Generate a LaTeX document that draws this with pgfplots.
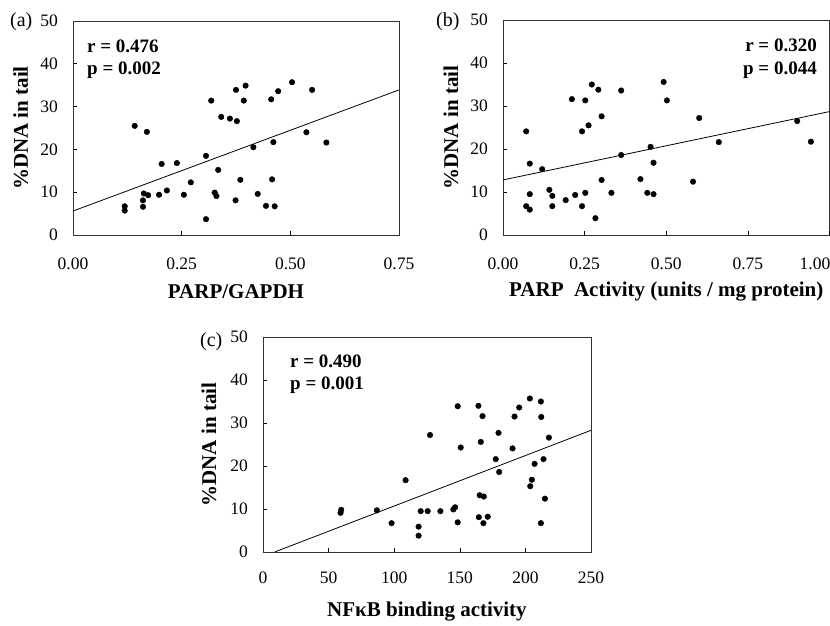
\documentclass[border=0pt]{standalone}
\usepackage{fontspec}
\setmainfont{Liberation Serif}
\usepackage{pgfplots}
\pgfplotsset{compat=1.18}

\pgfplotstableread{
x y
0.119 6.7
0.119 5.7
0.142 25.5
0.170 24.1
0.161 8.1
0.161 6.6
0.163 9.7
0.173 9.3
0.204 16.6
0.198 9.4
0.216 10.4
0.239 16.8
0.255 9.4
0.271 12.3
0.306 18.5
0.306 3.7
0.318 31.4
0.326 9.9
0.330 9.1
0.334 15.2
0.341 27.6
0.361 27.2
0.375 33.9
0.377 26.6
0.374 8.1
0.385 12.9
0.393 31.4
0.397 34.9
0.415 20.5
0.425 9.6
0.444 6.8
0.456 31.7
0.458 13.0
0.461 21.7
0.464 6.7
0.472 33.6
0.504 35.7
0.537 24.0
0.550 33.9
0.583 21.6
}\dataA

\pgfplotstableread{
x y
0.071 24.1
0.071 6.7
0.082 16.6
0.082 9.5
0.082 5.9
0.120 15.3
0.142 10.5
0.151 9.1
0.151 6.7
0.192 8.1
0.211 31.6
0.221 9.3
0.242 24.1
0.242 6.7
0.252 31.3
0.252 9.8
0.262 25.5
0.272 35.0
0.283 3.9
0.292 33.8
0.302 27.6
0.302 12.8
0.332 9.8
0.362 33.6
0.362 18.6
0.421 13.0
0.442 9.8
0.452 20.5
0.461 16.8
0.461 9.5
0.492 35.6
0.502 31.3
0.582 12.4
0.601 27.2
0.661 21.6
0.901 26.5
0.943 21.7
}\dataB

\pgfplotstableread{
x y
59.6 9.8
59.1 9.1
86.8 9.7
98.0 6.7
108.7 16.7
118.6 5.9
118.6 3.8
120.2 9.5
125.5 9.5
127.3 27.2
135.2 9.5
145.1 9.9
146.4 10.4
148.4 33.9
148.4 6.9
150.7 24.3
164.2 34.0
164.5 8.1
165.2 13.2
166.0 25.6
167.3 31.6
168.0 6.7
168.3 12.9
171.3 8.2
177.4 21.6
179.5 27.7
180.0 18.6
190.2 24.1
191.7 31.5
195.3 33.6
203.4 35.7
203.7 15.3
204.9 16.8
207.0 20.5
211.8 35.0
212.1 31.4
211.8 6.7
213.8 21.6
214.9 12.4
217.9 26.6
}\dataC

\pgfplotsset{
  panel/.style={
    scale only axis, anchor=south west,
    ymin=0, ymax=50, ytick={0,10,...,50},
    xtick pos=bottom, ytick pos=left,
    tick align=inside, major tick length=4pt,
    every tick/.style={black, line width=0.6pt},
    axis line style={black!80, line width=0.8pt},
    tick label style={font=\fontsize{17.5}{18}\selectfont, inner sep=0pt},
    /pgf/number format/assume math mode=true,
    xticklabel style={anchor=north, yshift=-23pt},
    yticklabel style={anchor=east, xshift=-15pt},
    xlabel style={font=\bfseries\fontsize{21}{21}\selectfont, at={(axis description cs:0.5,0)}, anchor=base, inner sep=0pt},
    ylabel style={font=\bfseries\fontsize{21}{21}\selectfont, at={(axis description cs:0,0.5)}, anchor=base, inner sep=0pt},
    ylabel={\%DNA in tail},
  },
  twodec/.style={xticklabel style={/pgf/number format/fixed, /pgf/number format/fixed zerofill, /pgf/number format/precision=2}},
  dots/.style={only marks, mark=*, mark size=2.8pt, black},
  fit/.style={black, line width=0.8pt, no marks},
}

\begin{document}
\begin{tikzpicture}[x=1pt,y=1pt]
\useasboundingbox (0,0) rectangle (830,626);

% (a)
\begin{axis}[panel, twodec, at={(73pt,391pt)}, width=326pt, height=214pt,
  xmin=0, xmax=0.75, xtick={0,0.25,0.5,0.75},
  xlabel={PARP/GAPDH}, xlabel style={yshift=-64pt},
  ylabel style={yshift=45pt}]
\addplot[dots] table {\dataA};
\addplot[fit] coordinates {(0,5.6) (0.75,33.9)};
\end{axis}

% (b)
\begin{axis}[panel, twodec, at={(503pt,391pt)}, width=326.5pt, height=215pt,
  xmin=0, xmax=1, xtick={0,0.25,0.5,0.75},
  extra x ticks={1}, extra x tick labels={1.00},
  extra x tick style={xticklabel style={anchor=north east, xshift=1pt}},
  xlabel={PARP\ \ Activity (units / mg protein)}, xlabel style={yshift=-62pt},
  ylabel style={yshift=45pt}]
\addplot[dots] table {\dataB};
\addplot[fit] coordinates {(0,12.8) (1,28.7)};
\end{axis}

% (c)
\begin{axis}[panel, at={(263pt,74pt)}, width=328pt, height=215pt,
  xmin=0, xmax=250, xtick={0,50,...,250},
  xticklabel style={yshift=3pt},
  xlabel={NFκB binding activity}, xlabel style={yshift=-65pt},
  ylabel style={yshift=47pt}]
\addplot[dots] table {\dataC};
\addplot[fit] coordinates {(8.9,0) (250,28.3)};
\end{axis}

% panel letters
\node[anchor=base west, inner sep=0pt, font=\fontsize{20}{20}\selectfont] at (10,599) {(a)};
\node[anchor=base west, inner sep=0pt, font=\fontsize{20}{20}\selectfont] at (436,599) {(b)};
\node[anchor=base west, inner sep=0pt, font=\fontsize{20}{20}\selectfont] at (200,279) {(c)};

% statistics
\begin{scope}[every node/.style={inner sep=0pt, font=\bfseries\fontsize{19}{19}\selectfont}]
\node[anchor=base west] at (87,573) {r = 0.476};
\node[anchor=base west] at (87,551) {p = 0.002};
\node[anchor=base east] at (817,574) {r = 0.320};
\node[anchor=base east] at (817,551) {p = 0.044};
\node[anchor=base west] at (290,258) {r = 0.490};
\node[anchor=base west] at (290,236) {p = 0.001};
\end{scope}
\end{tikzpicture}
\end{document}
